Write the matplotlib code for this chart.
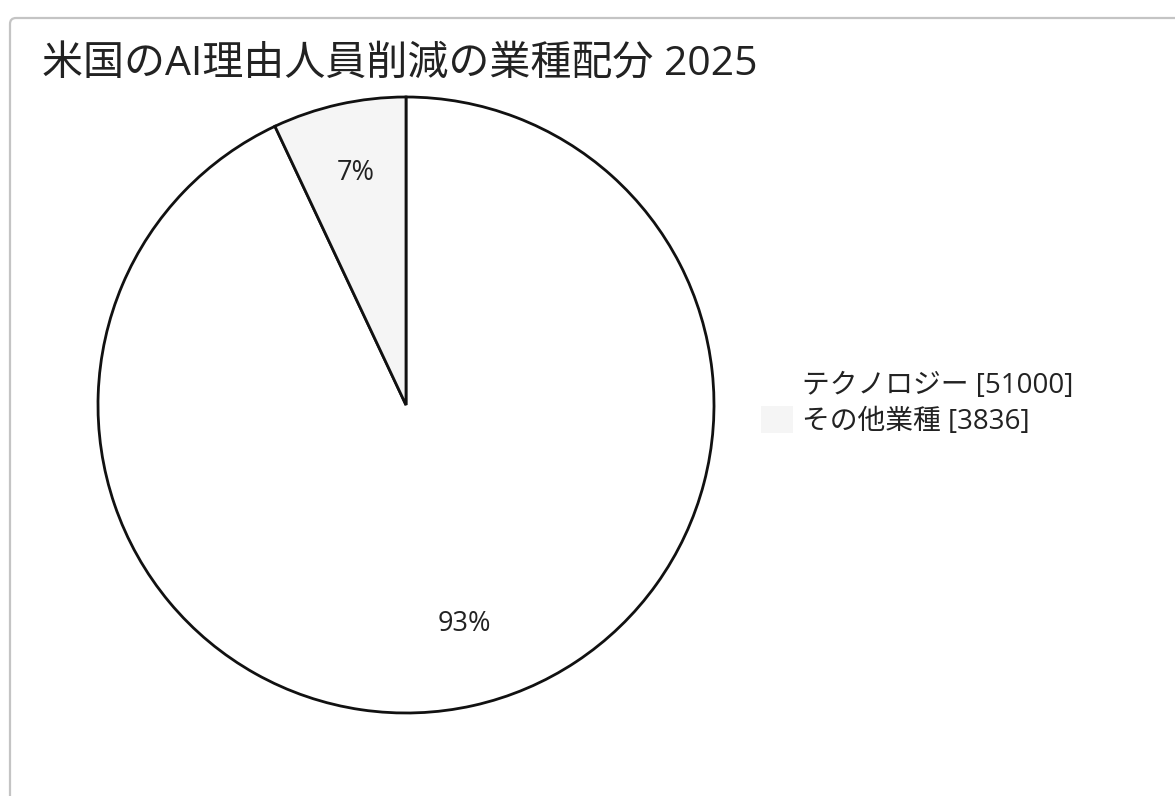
import matplotlib
matplotlib.use("Agg")
import matplotlib.pyplot as plt
from matplotlib.patches import FancyBboxPatch

plt.rcParams['font.family'] = ['Open Sans', 'Noto Sans CJK JP', 'DejaVu Sans']

# data
categories = ['テクノロジー', 'その他業種']
values = [51000, 3836]
colors = ['#ffffff', '#f5f5f5']
title = '米国のAI理由人員削減の業種配分 2025'

W, H = 1175, 796
fig = plt.figure(figsize=(W / 100, H / 100), dpi=100)

#card border, runs off the right and bottom edges
card = FancyBboxPatch((0.10, -0.3), 12.2, 7.78 + 0.3,
                      boxstyle='round,pad=0,rounding_size=0.06',
                      transform=fig.dpi_scale_trans,
                      facecolor='none', edgecolor='#c4c4c4', linewidth=1.6,
                      zorder=-1)
fig.patches.append(card)

fig.text(42 / W, 1 - 65 / H, title, fontsize=29.5, color='#222222',
         ha='left', va='center')

# pie axes: center (406,405) px, radius 308 px
cx, cy, r = 406, 405, 308
ax = fig.add_axes([(cx - r) / W, (H - cy - r) / H, 2 * r / W, 2 * r / H])
wedges, texts, autotexts = ax.pie(
    values, colors=colors, startangle=90, counterclock=False,
    autopct=lambda p: '{:.0f}%'.format(p), pctdistance=0.75,
    wedgeprops=dict(edgecolor='#111111', linewidth=2.0),
    textprops=dict(fontsize=19.5, color='#222222'))
for w in wedges:
    w.set_clip_on(False)
# labels sit a little higher / further right in the original
for t, dx in zip(autotexts, [0.025, 0.0]):
    x, y = t.get_position()
    t.set_position((x + dx, y + 0.02))
ax.set_xlim(-1, 1)
ax.set_ylim(-1, 1)
ax.set_aspect('equal')
ax.axis('off')

labels = ['{} [{}]'.format(c, v) for c, v in zip(categories, values)]
fig.legend(wedges, labels, loc='upper left',
           bbox_to_anchor=(742 / W, 1 - 351 / H),
           frameon=False, fontsize=20, handlelength=1.15, handleheight=1.1,
           handletextpad=0.3, labelspacing=0.22, borderpad=0.2)
# legend swatches have no outline
leg = fig.legends[0]
for h in leg.legend_handles:
    h.set_edgecolor('none')
for t in leg.get_texts():
    t.set_color('#222222')

fig.savefig('out.png', dpi=100, facecolor='white')
